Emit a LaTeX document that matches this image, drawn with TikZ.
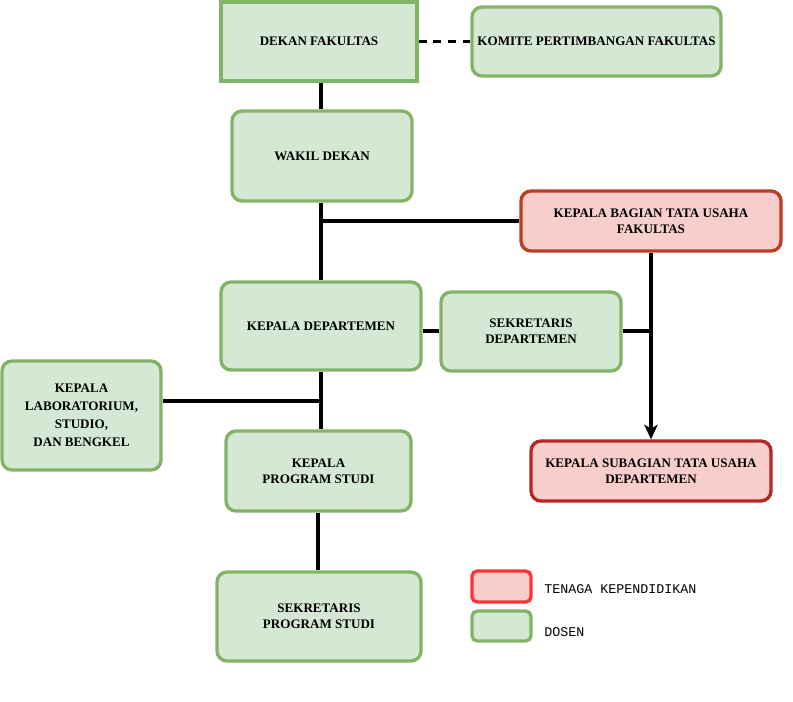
\documentclass[tikz,border=0pt]{standalone}
\usepackage{fontspec}
\setmainfont{Liberation Serif}
\setmonofont{Liberation Mono}
\usetikzlibrary{arrows.meta}
\definecolor{gfill}{HTML}{D5E8D4}
\definecolor{gdraw}{HTML}{82B366}
\definecolor{rfill}{HTML}{F8CECC}
\definecolor{rdrawA}{HTML}{BA3E26}
\definecolor{rdrawB}{HTML}{B52626}
\definecolor{rdrawL}{HTML}{FF3333}
\tikzset{
  box/.style={draw=gdraw, fill=gfill, line width=2.5pt, rounded corners=7.5pt,
    align=center, inner sep=0pt, font=\fontsize{9.8}{12}\selectfont\bfseries},
  redbox/.style={box, draw=rdrawA, fill=rfill},
  conn/.style={draw=black, line width=2.5pt},
  legtext/.style={anchor=west, inner sep=0pt, font=\fontsize{10}{12}\selectfont\ttfamily}
}
\begin{document}
\begin{tikzpicture}[x=0.75pt, y=-0.75pt]
\useasboundingbox (0,0) rectangle (793,701);
% nodes
\node[box, rounded corners=0pt, minimum width=196*0.75pt, minimum height=79*0.75pt] (dekan) at (319,41.5) {DEKAN FAKULTAS};
\node[box, minimum width=249*0.75pt, minimum height=69*0.75pt] (komite) at (596.5,41.5) {KOMITE PERTIMBANGAN FAKULTAS};
\node[box, minimum width=180*0.75pt, minimum height=90*0.75pt] (wakil) at (322,156) {WAKIL DEKAN};
\node[redbox, minimum width=260*0.75pt, minimum height=60*0.75pt] (kbag) at (651,221) {KEPALA BAGIAN TATA USAHA\\FAKULTAS};
\node[box, minimum width=200*0.75pt, minimum height=88*0.75pt] (kd) at (321,326) {KEPALA DEPARTEMEN};
\node[box, minimum width=180*0.75pt, minimum height=79*0.75pt] (sd) at (531,331.5) {SEKRETARIS\\DEPARTEMEN};
\node[redbox, draw=rdrawB, minimum width=240*0.75pt, minimum height=60*0.75pt] (ksub) at (651,471) {KEPALA SUBAGIAN TATA USAHA\\DEPARTEMEN};
\node[box, minimum width=159*0.75pt, minimum height=109*0.75pt, font=\fontsize{9.8}{13.5}\selectfont\bfseries] (klab) at (81.5,415.5) {KEPALA\\LABORATORIUM,\\STUDIO,\\DAN BENGKEL};
\node[box, minimum width=185*0.75pt, minimum height=80*0.75pt] (kps) at (318.5,471) {KEPALA\\PROGRAM STUDI};
\node[box, minimum width=204*0.75pt, minimum height=89*0.75pt] (sps) at (319,616.5) {SEKRETARIS\\PROGRAM STUDI};
% legend
\node[box, draw=rdrawL, fill=rfill, rounded corners=4pt, minimum width=59*0.75pt, minimum height=31*0.75pt] (leg1) at (501.5,586.5) {};
\node[box, rounded corners=4pt, minimum width=59*0.75pt, minimum height=30*0.75pt] (leg2) at (501.5,626) {};
\node[legtext] (leg1t) at (544,589) {TENAGA KEPENDIDIKAN};
\node[legtext] (leg2t) at (544,632) {DOSEN};
% coordinates
\coordinate (j1) at (321,221);
\coordinate (j2) at (321,401);
\coordinate (j3) at (651,331);
% connectors
\draw[conn] (wakil.north -| 321,0) -- (dekan.south -| 321,0);
\draw[conn, dash pattern=on 6pt off 5pt] (dekan.east) -- (komite.west);
\draw[conn] (wakil.south -| 321,0) -- (kd.north);
\draw[conn] (j1) -- (kbag.west);
\draw[conn, -{Stealth[length=11pt, width=10pt, inset=3pt]}] (kbag.south) -- (ksub.north);
\draw[conn] (sd.west |- j3) -- (kd.east |- j3);
\draw[conn] (sd.east |- j3) -- (j3);
\draw[conn] (kd.south) -- (kd.south |- kps.north);
\draw[conn] (j2) -- (j2 -| klab.east);
\draw[conn] (kps.south -| 318,0) -- (sps.north -| 318,0);
\end{tikzpicture}
\end{document}
